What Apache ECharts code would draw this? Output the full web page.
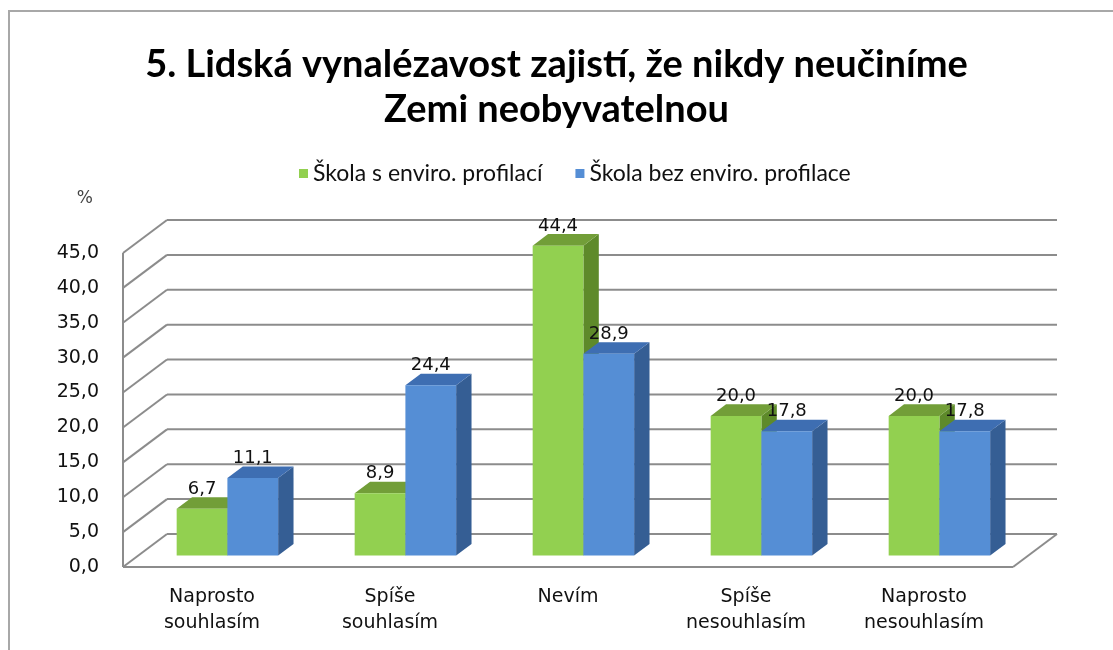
<!DOCTYPE html>
<html>
<head>
<meta charset="utf-8">
<script src="https://cdn.jsdelivr.net/npm/echarts@6/dist/echarts.min.js"></script>
<style>
  html, body { margin: 0; padding: 0; background: #fff; }
  #chart { width: 1113px; height: 650px; }
</style>
</head>
<body>
<div id="chart"></div>
<script>
// data
const categories = ['Naprosto\nsouhlasím', 'Spíše\nsouhlasím', 'Nevím', 'Spíše\nnesouhlasím', 'Naprosto\nnesouhlasím'];
const withEnviro = [6.7, 8.9, 44.4, 20.0, 20.0];
const withoutEnviro = [11.1, 24.4, 28.9, 17.8, 17.8];
const yTicks = [0, 5, 10, 15, 20, 25, 30, 35, 40, 45];
const seriesNames = ['Škola s enviro. profilací', 'Škola bez enviro. profilace'];

// pseudo 3D look (Excel style)
const DEPTH = [44, -33];     // floor depth vector in px
const BAR_FRONT = 0.35;      // where bars start in the depth
const BAR_DEEP = 0.35;       // how deep a bar is
const BAR_FRAC = 0.285;      // bar width as part of category
const gridColor = '#8c8c8c';

const fmt = v => Number(v).toFixed(1).replace('.', ',');

let myChart = echarts.init(document.getElementById('chart'));

function frameRender(params, api) {
    const cs = params.coordSys;
    const v = api.value(1);
    const p = api.coord([0, v]);
    const y = p[1];
    const x0 = cs.x, x1 = cs.x + cs.width;
    const items = [];
    const ls = { stroke: gridColor, lineWidth: 2 };
    // diagonal on left wall
    items.push({ type: 'line', shape: { x1: x0, y1: y, x2: x0 + DEPTH[0], y2: y + DEPTH[1] }, style: ls });
    // back wall line
    items.push({ type: 'line', shape: { x1: x0 + DEPTH[0], y1: y + DEPTH[1], x2: x1 + DEPTH[0], y2: y + DEPTH[1] }, style: ls });
    if (params.dataIndex === 0) {
        const yTop = api.coord([0, yTicks[yTicks.length - 1]])[1];
        // floor front edge + right edge
        items.push({ type: 'line', shape: { x1: x0, y1: y, x2: x1, y2: y }, style: ls });
        items.push({ type: 'line', shape: { x1: x1, y1: y, x2: x1 + DEPTH[0], y2: y + DEPTH[1] }, style: ls });
        // left wall front edge
        items.push({ type: 'line', shape: { x1: x0, y1: y, x2: x0, y2: yTop }, style: ls });
    }
    return { type: 'group', children: items };
}

function barRender(slot, front, topC, side) {
    return function (params, api) {
        const cat = api.value(0), v = api.value(1);
        const base = api.coord([cat, 0]);
        const top = api.coord([cat, v]);
        const w = api.size([1, 0])[0] * BAR_FRAC;
        const ox = DEPTH[0] * BAR_FRONT, oy = DEPTH[1] * BAR_FRONT;
        const dx = DEPTH[0] * BAR_DEEP, dy = DEPTH[1] * BAR_DEEP;
        const x0 = base[0] + ox + (slot - 1) * w;
        const yb = base[1] + oy, yt = top[1] + oy;
        return {
            type: 'group',
            children: [
                { type: 'polygon', shape: { points: [[x0 + w, yt], [x0 + w + dx, yt + dy], [x0 + w + dx, yb + dy], [x0 + w, yb]] }, style: { fill: side } },
                { type: 'polygon', shape: { points: [[x0, yt], [x0 + w, yt], [x0 + w + dx, yt + dy], [x0 + dx, yt + dy]] }, style: { fill: topC } },
                { type: 'rect', shape: { x: x0, y: yt, width: w, height: yb - yt }, style: { fill: front } },
                { type: 'text', z2: 10, style: { text: fmt(v), x: x0 + w / 2, y: yt + dy + 1, align: 'center', verticalAlign: 'bottom', fontSize: 18, fontFamily: 'DejaVu Sans', fill: '#111' } }
            ]
        };
    };
}

myChart.setOption({
    color: ['#92D050', '#558ED5'],
    title: {
        text: '5. Lidská vynalézavost zajistí, že nikdy neučiníme\nZemi neobyvatelnou',
        left: 'center',
        top: 37,
        textStyle: { fontFamily: 'Lato', fontWeight: 'bold', fontSize: 38, lineHeight: 45, color: '#000' }
    },
    legend: {
        top: 157,
        left: 294,
        icon: 'rect',
        itemWidth: 9,
        itemHeight: 9,
        itemGap: 33,
        itemStyle: { borderWidth: 0 },
        data: seriesNames,
        textStyle: { fontFamily: 'Lato', fontSize: 23, color: '#111', padding: [0, 0, 0, 0] }
    },
    graphic: [{
        type: 'rect', silent: true,
        shape: { x: 9, y: 11, width: 1200, height: 700 },
        style: { fill: 'none', stroke: '#a8a8a8', lineWidth: 2 }
    }],
    grid: { left: 123, right: 100, top: 253, bottom: 83 },
    xAxis: {
        type: 'category',
        data: categories,
        axisLine: { show: false },
        axisTick: { show: false },
        axisLabel: { interval: 0, margin: 17, lineHeight: 26, fontSize: 19, fontFamily: 'DejaVu Sans', color: '#111', verticalAlign: 'top' }
    },
    yAxis: {
        type: 'value',
        min: 0, max: 45, interval: 5,
        name: '%',
        nameLocation: 'end',
        nameGap: 46,
        nameTextStyle: { align: 'right', padding: [0, 30, 0, 0], fontSize: 17, fontFamily: 'DejaVu Sans', color: '#444' },
        axisLine: { show: false },
        axisTick: { show: false },
        splitLine: { show: false },
        axisLabel: { margin: 24, fontSize: 19, fontFamily: 'DejaVu Sans', color: '#111', formatter: fmt }
    },
    series: [
        {
            type: 'custom', name: 'frame', silent: true, z: 1, clip: false,
            renderItem: frameRender,
            data: yTicks.map(v => [0, v])
        },
        {
            type: 'custom', name: seriesNames[0], z: 2, clip: false,
            itemStyle: { color: '#92D050' },
            renderItem: barRender(0, '#92D050', '#729E38', '#5E8A2A'),
            data: withEnviro.map((v, i) => [i, v])
        },
        {
            type: 'custom', name: seriesNames[1], z: 3, clip: false,
            itemStyle: { color: '#558ED5' },
            renderItem: barRender(1, '#558ED5', '#3E6EB2', '#355E94'),
            data: withoutEnviro.map((v, i) => [i, v])
        }
    ]
});
</script>
</body>
</html>
